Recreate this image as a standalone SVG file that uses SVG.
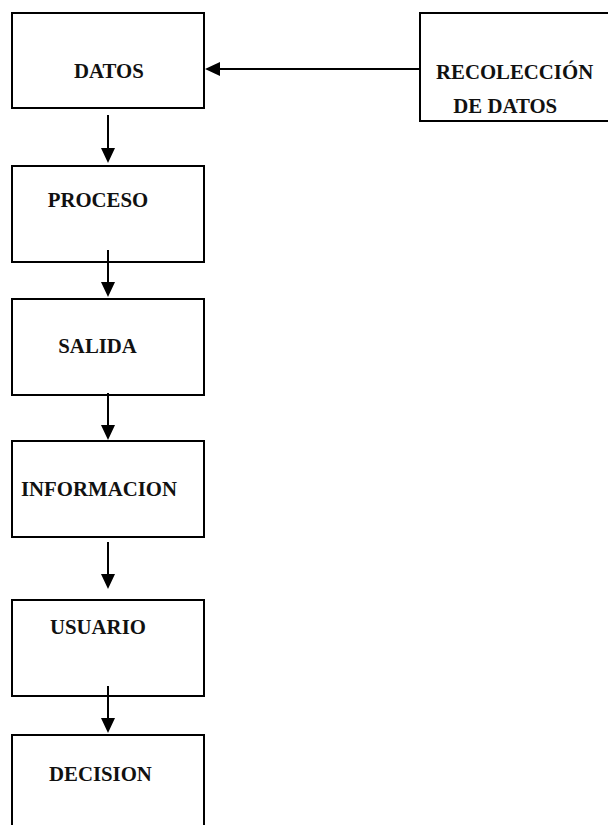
<svg xmlns="http://www.w3.org/2000/svg" width="608" height="825" viewBox="0 0 608 825">
  <style>
    .box { fill: #ffffff; stroke: #000000; stroke-width: 2; }
    .link { stroke: #000000; stroke-width: 2; fill: none; marker-end: url(#head); }
    text { font-family: "Liberation Serif", "Times New Roman", serif; font-weight: bold; font-size: 20.8px; fill: #111111; }
  </style>
  <defs>
    <!-- filled triangular arrowhead; tip sits 10px past the line end -->
    <marker id="head" markerUnits="userSpaceOnUse" markerWidth="16" markerHeight="15" refX="5" refY="7" orient="auto">
      <path d="M0,0 L15,7 L0,14 z" fill="#000000"/>
    </marker>
  </defs>
  <rect width="608" height="825" fill="#ffffff"/>

  <g id="nodes" font-family="Liberation Serif" font-weight="bold" font-size="20.8">
    <g id="node-datos">
      <rect class="box" x="12" y="13" width="192" height="95"/>
      <text x="74" y="78">DATOS</text>
    </g>
    <g id="node-recoleccion">
      <rect class="box" x="420" y="13" width="200" height="108"/>
      <text x="436" y="78.7">RECOLECCIÓN</text>
      <text x="453.3" y="113.3">DE DATOS</text>
    </g>
    <g id="node-proceso">
      <rect class="box" x="12" y="166" width="192" height="96"/>
      <text x="47.7" y="206.7">PROCESO</text>
    </g>
    <g id="node-salida">
      <rect class="box" x="12" y="299" width="192" height="96"/>
      <text x="58.3" y="353.3">SALIDA</text>
    </g>
    <g id="node-informacion">
      <rect class="box" x="12" y="441" width="192" height="96"/>
      <text x="21" y="496">INFORMACION</text>
    </g>
    <g id="node-usuario">
      <rect class="box" x="12" y="600" width="192" height="96"/>
      <text x="50" y="634">USUARIO</text>
    </g>
    <g id="node-decision">
      <!-- bottom edge runs off the page -->
      <rect class="box" x="12" y="735" width="192" height="110"/>
      <text x="49" y="781">DECISION</text>
    </g>
  </g>

  <g id="connectors">
    <line class="link" x1="420" y1="69" x2="215" y2="69"/>
    <line class="link" x1="108" y1="115" x2="108" y2="153"/>
    <line class="link" x1="108" y1="250" x2="108" y2="287"/>
    <line class="link" x1="108" y1="393" x2="108" y2="430"/>
    <line class="link" x1="108" y1="542" x2="108" y2="579"/>
    <line class="link" x1="108" y1="686" x2="108" y2="723"/>
  </g>
</svg>
